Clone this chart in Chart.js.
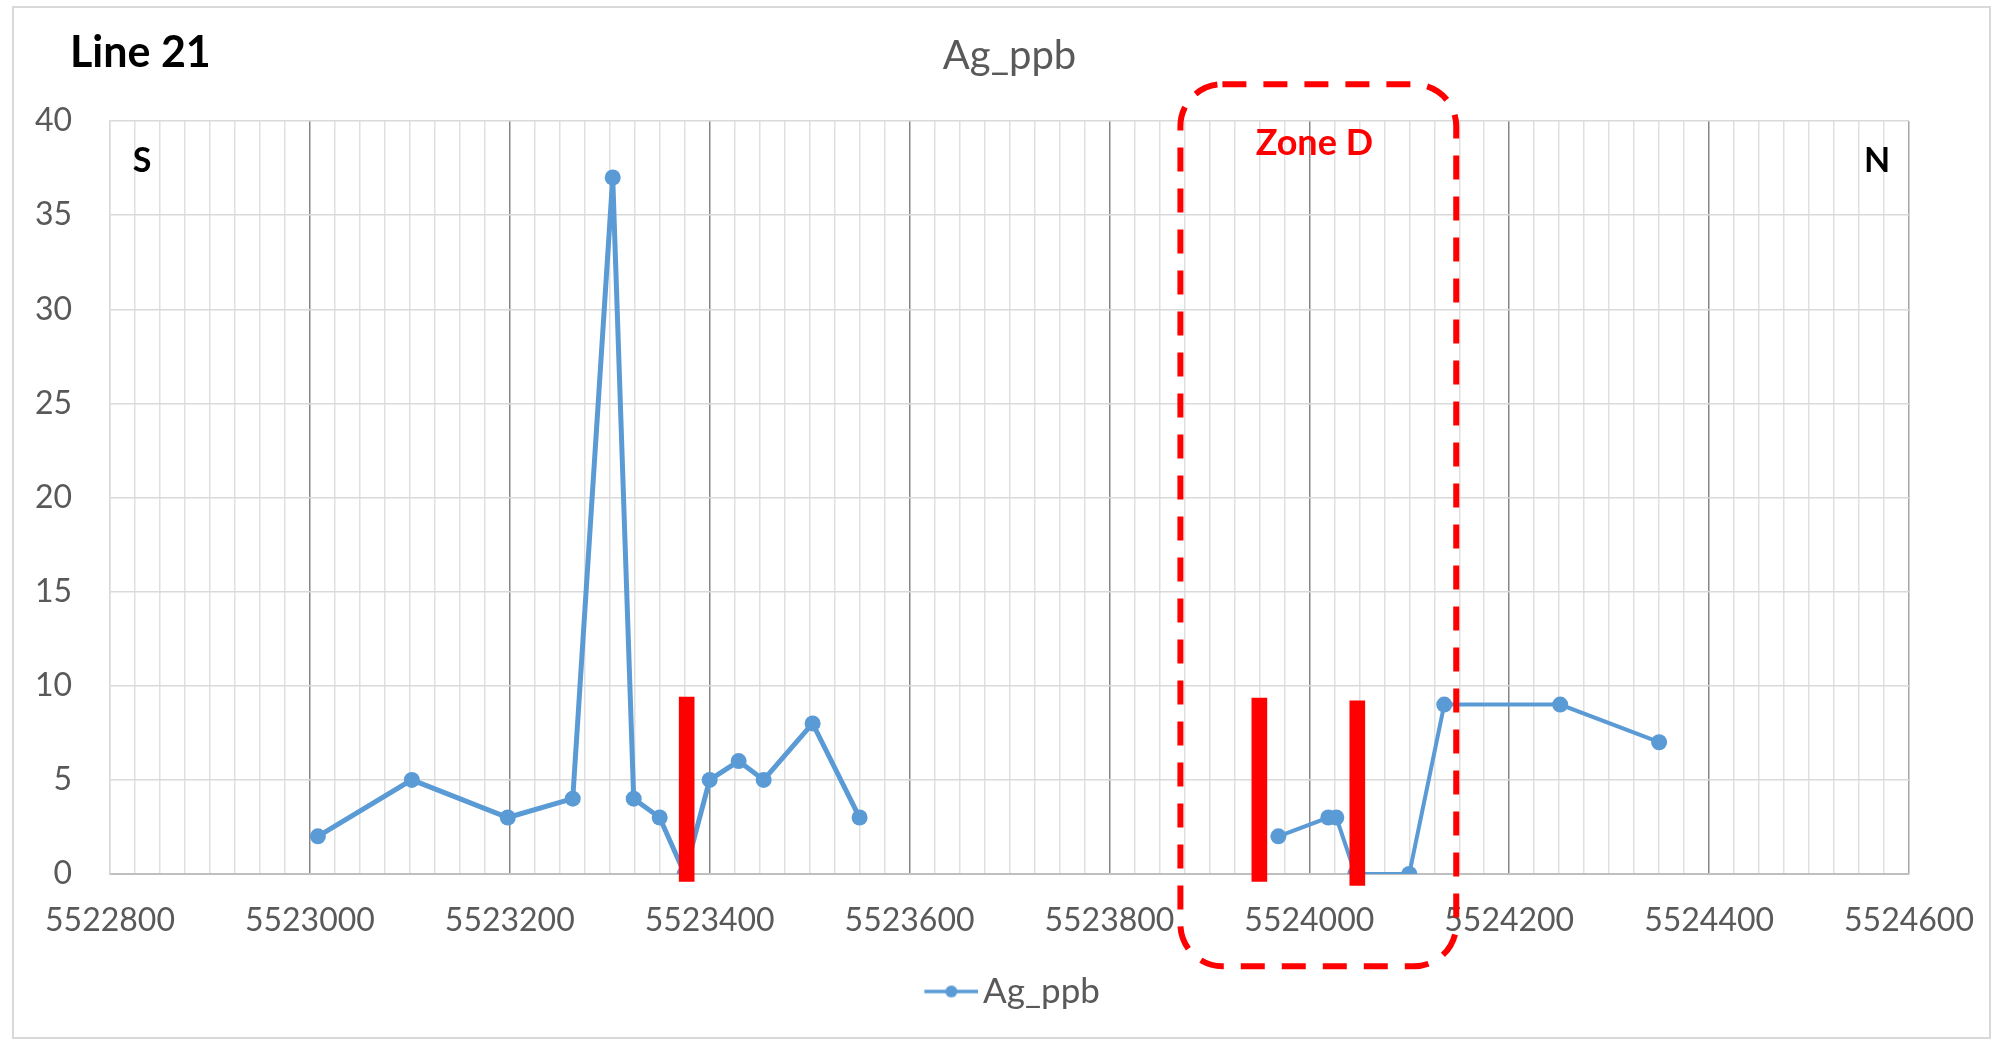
<!DOCTYPE html>
<html><head><meta charset="utf-8">
<script src="https://cdn.jsdelivr.net/npm/chart.js@4.4.1/dist/chart.umd.min.js"></script>
<style>html,body{margin:0;padding:0;background:#fff;overflow:hidden}</style>
</head><body>
<canvas id="c" width="2002" height="1043"></canvas>
<script>
// ---- data ----
const northing = [5523008, 5523102, 5523198, 5523263, 5523303, 5523324, 5523350, 5523375, 5523400, 5523429, 5523454, 5523503, 5523550,
                  5523969, 5524019, 5524027, 5524046, 5524100, 5524135, 5524251, 5524350];
const agPpb    = [2, 5, 3, 4, 37, 4, 3, 0, 5, 6, 5, 8, 3,
                  2, 3, 3, 0, 0, 9, 9, 7];
const barNorthing = [5523377, 5523950, 5524048];
const barTop      = [9.4, 9.35, 9.2];
const barBottom   = [-0.4, -0.4, -0.6];
const xTickValues = [5522800, 5523000, 5523200, 5523400, 5523600, 5523800, 5524000, 5524200, 5524400, 5524600];
const xTickLabels = ['5522800', '5523000', '5523200', '5523400', '5523600', '5523800', '5524000', '5524200', '5524400', '5524600'];
const yTickLabels = ['0', '5', '10', '15', '20', '25', '30', '35', '40'];
const seriesName = 'Ag_ppb';
const zone = { start: 5523871, end: 5524147, top: 41.95, bottom: -4.9, label: 'Zone D', labelX: 5524005, labelY: 38.8 };

const BLUE = '#5b9bd5';
const FONT = 'Lato, "Open Sans", sans-serif';

// legend symbol: line with marker (transparent left margin shifts it)
const sym = document.createElement('canvas');
sym.width = 72; sym.height = 16;
(function(){
  const g = sym.getContext('2d');
  g.strokeStyle = BLUE; g.lineWidth = 3.6;
  g.beginPath(); g.moveTo(18, 8); g.lineTo(72, 8); g.stroke();
  g.fillStyle = BLUE; g.beginPath(); g.arc(45, 8, 6, 0, Math.PI * 2); g.fill();
})();

const annot = {
  id: 'annot',
  beforeDraw(chart) {
    const ctx = chart.ctx;
    ctx.save();
    ctx.fillStyle = '#fff';
    ctx.fillRect(0, 0, chart.width, chart.height);
    ctx.strokeStyle = '#d9d9d9'; ctx.lineWidth = 2;
    ctx.strokeRect(13, 7, 1977, 1031);
    ctx.restore();
  },
  afterDraw(chart) {
    const { ctx, scales: { x, y } } = chart;
    ctx.save();
    ctx.fillStyle = '#000';
    ctx.textAlign = 'left'; ctx.textBaseline = 'middle';
    ctx.font = 'bold 43px ' + FONT;
    ctx.fillText('Line 21', 70, 53);
    ctx.font = 'bold 34px ' + FONT;
    ctx.textAlign = 'center';
    ctx.fillText('S', x.getPixelForValue(5522832), y.getPixelForValue(37.9));
    ctx.fillText('N', x.getPixelForValue(5524568), y.getPixelForValue(37.9));
    const l = x.getPixelForValue(zone.start), r = x.getPixelForValue(zone.end);
    const t = y.getPixelForValue(zone.top), b = y.getPixelForValue(zone.bottom);
    const rad = 42;
    ctx.strokeStyle = '#ff0000'; ctx.lineWidth = 6;
    ctx.setLineDash([24, 17]);
    ctx.beginPath();
    ctx.moveTo(l + rad, t);
    ctx.lineTo(r - rad, t);
    ctx.arcTo(r, t, r, t + rad, rad);
    ctx.lineTo(r, b - rad);
    ctx.arcTo(r, b, r - rad, b, rad);
    ctx.lineTo(l + rad, b);
    ctx.arcTo(l, b, l, b - rad, rad);
    ctx.lineTo(l, t + rad);
    ctx.arcTo(l, t, l + rad, t, rad);
    ctx.closePath();
    ctx.stroke();
    ctx.setLineDash([]);
    ctx.fillStyle = '#ff0000';
    ctx.font = 'bold 36px ' + FONT;
    ctx.fillText(zone.label, x.getPixelForValue(zone.labelX), y.getPixelForValue(zone.labelY));
    ctx.restore();
  }
};

function tickVal(ctx) {
  return (ctx && ctx.tick) ? Math.round(ctx.tick.value) : null;
}
function gridColor(ctx) {
  const v = tickVal(ctx);
  if (v === null) return '#e0e0e0';
  if (v === 5522800) return '#d9d9d9';
  if (v === 5524600) return '#a6a6a6';
  return (v % 200 === 0) ? '#868686' : '#e0e0e0';
}

new Chart(document.getElementById('c'), {
  type: 'line',
  data: {
    datasets: [
      {
        type: 'bar',
        label: 'zones',
        data: barNorthing.map((v, i) => ({ x: v, y: [barBottom[i], barTop[i]] })),
        backgroundColor: '#ff0000',
        borderWidth: 0,
        barThickness: 15,
        order: 0,
        clip: false
      },
      {
        type: 'line',
        label: seriesName,
        data: northing.map((v, i) => ({ x: v, y: agPpb[i] })),
        borderColor: BLUE,
        backgroundColor: BLUE,
        pointBackgroundColor: BLUE,
        pointBorderColor: BLUE,
        pointRadius: 8,
        pointBorderWidth: 0,
        borderWidth: 5,
        tension: 0,
        order: 1,
        segment: {
          borderColor: c => (c.p1.parsed.x - c.p0.parsed.x > 300 ? 'rgba(0,0,0,0)' : BLUE),
          borderWidth: c => (c.p0.parsed.x > 5523800 ? 4 : 5)
        }
      }
    ]
  },
  options: {
    responsive: false,
    animation: false,
    devicePixelRatio: 1,
    layout: { padding: { left: 14, right: 93, top: 0, bottom: 24 } },
    plugins: {
      tooltip: { enabled: false },
      title: {
        display: true,
        text: seriesName,
        fullSize: false,
        color: '#595959',
        font: { family: FONT, size: 40, weight: 'normal' },
        padding: { top: 32, bottom: 41 }
      },
      legend: {
        display: true,
        position: 'bottom',
        fullSize: false,
        labels: {
          filter: item => item.text === seriesName,
          usePointStyle: true,
          pointStyle: sym,
          pointStyleWidth: 46.5,
          color: '#595959',
          font: { family: FONT, size: 35 },
          padding: 10
        }
      }
    },
    scales: {
      x: {
        type: 'linear',
        min: 5522800,
        max: 5524600,
        offset: false,
        afterFit: s => { s.height = 90; },
        ticks: {
          stepSize: 25,
          autoSkip: false,
          maxRotation: 0,
          minRotation: 0,
          padding: 27,
          color: '#595959',
          font: { family: FONT, size: 32 },
          callback: (value) => {
            const i = xTickValues.indexOf(Math.round(value));
            return i >= 0 ? xTickLabels[i] : '';
          }
        },
        grid: { offset: false, color: gridColor, lineWidth: 1.5, drawTicks: false },
        border: { color: '#bfbfbf', width: 2 }
      },
      y: {
        type: 'linear',
        min: 0,
        max: 40,
        afterFit: s => { s.width = 96; },
        ticks: {
          stepSize: 5,
          padding: 38,
          color: '#595959',
          font: { family: FONT, size: 32 },
          callback: (value, index) => yTickLabels[index]
        },
        grid: { color: '#d9d9d9', lineWidth: 1.5, drawTicks: false },
        border: { color: '#d9d9d9', width: 1.5 }
      }
    }
  },
  plugins: [annot]
});
</script>
</body></html>
